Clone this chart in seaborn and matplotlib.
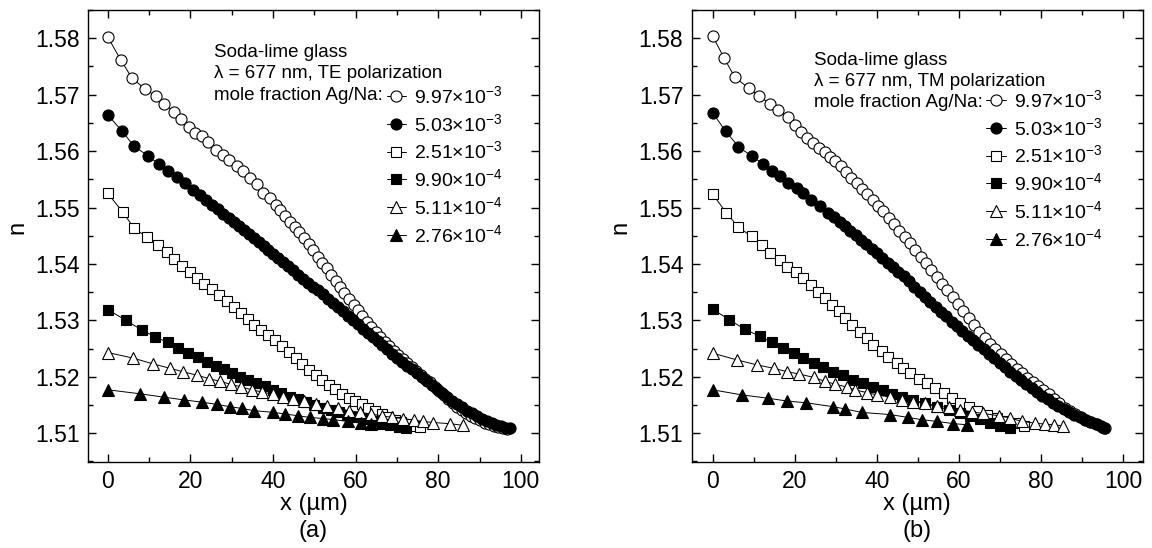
import matplotlib
matplotlib.use("Agg")
import matplotlib.pyplot as plt
import seaborn as sns
from matplotlib.ticker import MultipleLocator, FormatStrFormatter

# ---- data: x in um, n refractive index ----
labels = [r"9.97$\times$10$^{-3}$", r"5.03$\times$10$^{-3}$", r"2.51$\times$10$^{-3}$",
          r"9.90$\times$10$^{-4}$", r"5.11$\times$10$^{-4}$", r"2.76$\times$10$^{-4}$"]

# (a) TE polarization
te_x_997 = [0, 3.1, 5.8, 9.0, 11.7, 13.7, 16.0, 17.7, 19.7, 21.1, 22.7, 24.3, 26.2, 27.8, 29.4,
            31.2, 32.8, 34.4, 36.0, 37.6, 39.3, 40.6, 41.8, 43.0, 44.2, 45.3, 46.4, 47.5, 48.6,
            49.7, 50.8, 51.9, 53.0, 54.1, 55.2, 56.2, 57.3, 58.4, 59.5, 60.5, 61.6, 62.7, 63.8,
            64.9, 66.0, 67.1, 68.1, 69.2, 70.3, 71.4, 72.5, 73.6, 74.7, 75.8, 76.9, 78.0, 79.1,
            80.2, 81.3, 82.4, 83.5, 84.6, 85.7, 86.8, 87.9, 89.0, 90.1, 91.2, 92.3, 93.4, 94.5,
            95.6, 96.6]
te_n_997 = [1.5802, 1.5762, 1.5730, 1.5710, 1.5697, 1.5683, 1.5670, 1.5657, 1.5643, 1.5632,
            1.5626, 1.5617, 1.5602, 1.5593, 1.5584, 1.5574, 1.5564, 1.5552, 1.5541, 1.5526,
            1.5516, 1.5505, 1.5495, 1.5485, 1.5475, 1.5465, 1.5456, 1.5446, 1.5435, 1.5424,
            1.5413, 1.5402, 1.5392, 1.5381, 1.5370, 1.5360, 1.5349, 1.5338, 1.5328, 1.5318,
            1.5308, 1.5298, 1.5289, 1.5280, 1.5271, 1.5262, 1.5254, 1.5246, 1.5238, 1.5231,
            1.5224, 1.5217, 1.5210, 1.5204, 1.5197, 1.5190, 1.5182, 1.5175, 1.5168, 1.5160,
            1.5153, 1.5147, 1.5141, 1.5136, 1.5131, 1.5127, 1.5123, 1.5119, 1.5116, 1.5113,
            1.5111, 1.5109, 1.5108]
te_x_503 = [0, 3.5, 6.3, 9.8, 12.3, 14.6, 16.7, 18.6, 20.5, 22.2, 23.8, 25.3, 26.7, 28.0, 29.3,
            30.5, 31.7, 32.9, 34.1, 35.3, 36.5, 37.7, 38.9, 40.1, 41.3, 42.5, 43.7, 44.9, 46.1,
            47.3, 48.5, 49.7, 50.9, 52.1, 53.3, 54.5, 55.7, 56.9, 58.1, 59.3, 60.5, 61.7, 62.9,
            64.1, 65.3, 66.5, 67.7, 68.9, 70.1, 71.3, 72.5, 73.7, 74.9, 76.1, 77.3, 78.5, 79.7,
            80.9, 82.1, 83.3, 84.5, 85.7, 86.9, 88.1, 89.3, 90.5, 91.7, 92.9, 94.1, 95.3, 96.4,
            97.4]
te_n_503 = [1.5664, 1.5635, 1.5609, 1.5591, 1.5577, 1.5564, 1.5554, 1.5543, 1.5531, 1.5522,
            1.5513, 1.5505, 1.5497, 1.5489, 1.5481, 1.5474, 1.5467, 1.5460, 1.5453, 1.5446,
            1.5439, 1.5432, 1.5425, 1.5418, 1.5411, 1.5403, 1.5396, 1.5389, 1.5381, 1.5374,
            1.5367, 1.5360, 1.5353, 1.5346, 1.5338, 1.5331, 1.5323, 1.5316, 1.5308, 1.5300,
            1.5293, 1.5285, 1.5278, 1.5270, 1.5263, 1.5256, 1.5249, 1.5241, 1.5234, 1.5227,
            1.5220, 1.5213, 1.5206, 1.5199, 1.5192, 1.5185, 1.5178, 1.5171, 1.5164, 1.5158,
            1.5152, 1.5146, 1.5140, 1.5135, 1.5130, 1.5126, 1.5122, 1.5118, 1.5115, 1.5112,
            1.5110, 1.5109]
te_x_251 = [0, 3.6, 6.4, 9.4, 12.2, 14.3, 16.1, 18.0, 19.9, 21.6, 23.4, 25.2, 27.0, 28.8, 30.5,
            32.2, 33.9, 35.5, 37.2, 38.9, 40.5, 42.2, 43.9, 45.5, 47.1, 48.7, 50.3, 51.9, 53.5,
            55.1, 56.7, 58.3, 59.9, 61.5, 63.1, 64.7, 66.3, 67.9, 69.5, 71.1, 72.7, 74.3, 75.7]
te_n_251 = [1.5525, 1.5492, 1.5463, 1.5448, 1.5434, 1.5422, 1.5408, 1.5396, 1.5386, 1.5375,
            1.5365, 1.5355, 1.5345, 1.5334, 1.5324, 1.5313, 1.5302, 1.5292, 1.5283, 1.5274,
            1.5265, 1.5255, 1.5244, 1.5233, 1.5222, 1.5212, 1.5203, 1.5194, 1.5186, 1.5178,
            1.5170, 1.5163, 1.5157, 1.5151, 1.5145, 1.5139, 1.5134, 1.5129, 1.5124, 1.5120,
            1.5116, 1.5113, 1.5111]
te_x_990 = [0, 4.4, 8.2, 11.4, 14.5, 17.1, 19.5, 21.9, 24.1, 26.2, 28.1, 30.0, 32.0, 34.0, 35.9,
            38.0, 40.0, 42.0, 44.0, 46.0, 48.0, 50.0, 52.0, 54.0, 56.0, 58.0, 60.0, 62.0, 64.2,
            66.3, 68.4, 70.4, 72.2]
te_n_990 = [1.5319, 1.5300, 1.5283, 1.5271, 1.5261, 1.5251, 1.5242, 1.5235, 1.5227, 1.5220,
            1.5213, 1.5206, 1.5200, 1.5194, 1.5189, 1.5183, 1.5177, 1.5171, 1.5165, 1.5160,
            1.5155, 1.5150, 1.5145, 1.5141, 1.5137, 1.5133, 1.5129, 1.5125, 1.5121, 1.5117,
            1.5114, 1.5111, 1.5109]
te_x_511 = [0, 6.2, 10.9, 15.1, 18.2, 21.5, 24.4, 27.1, 29.7, 32.3, 34.9, 37.4, 39.9, 42.4, 44.9,
            47.6, 50.4, 53.0, 55.7, 58.4, 61.1, 63.7, 66.3, 68.9, 71.5, 74.2, 76.3, 78.8, 82.8, 86.0]
te_n_511 = [1.5243, 1.5233, 1.5223, 1.5215, 1.5209, 1.5203, 1.5197, 1.5192, 1.5187, 1.5182,
            1.5177, 1.5173, 1.5169, 1.5165, 1.5161, 1.5157, 1.5152, 1.5148, 1.5144, 1.5140,
            1.5137, 1.5134, 1.5131, 1.5128, 1.5126, 1.5123, 1.5121, 1.5119, 1.5117, 1.5114]
te_x_276 = [0, 7.7, 13.5, 18.5, 22.9, 26.5, 29.6, 32.4, 35.4, 40.1, 42.9, 46.1, 48.9, 52.2, 54.6,
            58.2, 61.3, 63.6]
te_n_276 = [1.5177, 1.5170, 1.5164, 1.5159, 1.5155, 1.5151, 1.5147, 1.5144, 1.5140, 1.5137,
            1.5134, 1.5131, 1.5128, 1.5126, 1.5124, 1.5121, 1.5118, 1.5116]

# (b) TM polarization
tm_x_997 = [0, 2.8, 5.4, 8.9, 11.4, 14.0, 16.0, 18.3, 20.0, 21.6, 23.1, 24.5, 25.9, 27.3, 28.6,
            29.9, 31.2, 32.5, 33.8, 35.1, 36.4, 37.7, 39.0, 40.3, 41.6, 42.9, 44.2, 45.5, 46.8,
            48.1, 49.4, 50.7, 52.0, 53.3, 54.6, 55.9, 57.2, 58.5, 59.8, 61.1, 62.4, 63.7, 65.0,
            66.3, 67.6, 68.9, 70.2, 71.5, 72.8, 74.1, 75.4, 76.7, 78.0, 79.3, 80.6, 81.9, 83.2,
            84.5, 85.8, 87.1, 88.4, 89.7, 91.0, 92.3, 93.6, 94.8, 95.7]
tm_n_997 = [1.5804, 1.5765, 1.5731, 1.5711, 1.5697, 1.5684, 1.5673, 1.5660, 1.5647, 1.5634,
            1.5623, 1.5614, 1.5606, 1.5598, 1.5590, 1.5583, 1.5573, 1.5563, 1.5553, 1.5543,
            1.5533, 1.5524, 1.5514, 1.5503, 1.5493, 1.5482, 1.5470, 1.5458, 1.5447, 1.5437,
            1.5425, 1.5413, 1.5401, 1.5389, 1.5377, 1.5364, 1.5353, 1.5342, 1.5329, 1.5316,
            1.5304, 1.5292, 1.5280, 1.5269, 1.5259, 1.5250, 1.5241, 1.5232, 1.5223, 1.5214,
            1.5206, 1.5198, 1.5191, 1.5183, 1.5176, 1.5169, 1.5161, 1.5153, 1.5145, 1.5139,
            1.5134, 1.5129, 1.5124, 1.5120, 1.5116, 1.5111, 1.5109]
tm_x_503 = [0, 3.2, 6.3, 9.5, 12.2, 14.4, 16.4, 18.5, 20.5, 22.0, 24.1, 26.2, 28.2, 29.6, 31.0,
            32.3, 33.6, 34.9, 36.2, 37.5, 38.8, 40.1, 41.4, 42.7, 44.0, 45.3, 46.6, 47.9, 49.2,
            50.5, 51.8, 53.1, 54.4, 55.7, 57.0, 58.3, 59.6, 60.9, 62.2, 63.5, 64.8, 66.1, 67.4,
            68.7, 70.0, 71.3, 72.6, 73.9, 75.2, 76.5, 77.8, 79.1, 80.4, 81.7, 83.0, 84.3, 85.6,
            86.9, 88.2, 89.5, 90.8, 92.1, 93.4, 94.6, 95.5]
tm_n_503 = [1.5668, 1.5635, 1.5608, 1.5591, 1.5578, 1.5565, 1.5555, 1.5543, 1.5534, 1.5525,
            1.5513, 1.5503, 1.5491, 1.5483, 1.5475, 1.5467, 1.5459, 1.5451, 1.5443, 1.5435,
            1.5427, 1.5419, 1.5411, 1.5402, 1.5394, 1.5386, 1.5378, 1.5369, 1.5360, 1.5351,
            1.5342, 1.5333, 1.5324, 1.5315, 1.5307, 1.5298, 1.5290, 1.5282, 1.5273, 1.5265,
            1.5257, 1.5249, 1.5241, 1.5233, 1.5225, 1.5217, 1.5209, 1.5202, 1.5195, 1.5187,
            1.5180, 1.5173, 1.5166, 1.5160, 1.5154, 1.5148, 1.5143, 1.5137, 1.5132, 1.5128,
            1.5124, 1.5120, 1.5116, 1.5112, 1.5110]
tm_x_251 = [0, 3.3, 6.3, 9.5, 12.0, 14.0, 16.4, 18.2, 20.3, 22.1, 24.1, 25.8, 27.4, 29.0, 30.7,
            32.3, 33.9, 35.9, 37.6, 39.2, 41.2, 42.8, 44.9, 46.5, 48.1, 50.2, 52.2, 54.2, 56.3,
            58.3, 60.3, 62.4, 64.4, 66.8, 69.3, 71.7, 73.7, 75.8]
tm_n_251 = [1.5524, 1.5491, 1.5465, 1.5449, 1.5434, 1.5419, 1.5407, 1.5395, 1.5385, 1.5375,
            1.5363, 1.5351, 1.5339, 1.5327, 1.5316, 1.5304, 1.5292, 1.5280, 1.5268, 1.5257,
            1.5245, 1.5235, 1.5224, 1.5215, 1.5206, 1.5197, 1.5189, 1.5180, 1.5171, 1.5162,
            1.5154, 1.5147, 1.5140, 1.5133, 1.5127, 1.5122, 1.5118, 1.5113]
tm_x_990 = [0, 4.1, 7.9, 11.5, 14.4, 17.2, 19.8, 22.1, 24.6, 27.0, 29.4, 31.9, 34.3, 36.7, 39.2,
            41.6, 43.7, 46.1, 48.9, 51.8, 54.6, 57.5, 60.3, 62.8, 65.2, 67.6, 70.1, 72.5]
tm_n_990 = [1.5320, 1.5301, 1.5284, 1.5272, 1.5261, 1.5251, 1.5242, 1.5233, 1.5224, 1.5218,
            1.5209, 1.5203, 1.5194, 1.5189, 1.5182, 1.5176, 1.5170, 1.5164, 1.5159, 1.5153,
            1.5147, 1.5141, 1.5135, 1.5131, 1.5125, 1.5118, 1.5113, 1.5109]
tm_x_511 = [0, 5.9, 10.9, 15.0, 18.2, 21.1, 24.6, 27.4, 29.8, 32.7, 34.7, 37.6, 40.0, 43.3, 46.1,
            48.9, 51.8, 54.6, 57.5, 60.3, 63.2, 66.0, 69.7, 72.5, 75.4, 78.6, 81.1, 83.1, 85.5]
tm_n_511 = [1.5242, 1.5230, 1.5221, 1.5215, 1.5209, 1.5205, 1.5199, 1.5192, 1.5187, 1.5182,
            1.5177, 1.5172, 1.5168, 1.5164, 1.5159, 1.5156, 1.5153, 1.5148, 1.5146, 1.5142,
            1.5138, 1.5135, 1.5131, 1.5127, 1.5121, 1.5118, 1.5116, 1.5115, 1.5113]
tm_x_276 = [0, 7.1, 13.6, 18.2, 22.8, 29.4, 32.3, 36.3, 43.3, 47.7, 51.0, 54.6, 58.7, 62.0]
tm_n_276 = [1.5177, 1.5168, 1.5162, 1.5157, 1.5154, 1.5147, 1.5143, 1.5137, 1.5133, 1.5128,
            1.5124, 1.5121, 1.5117, 1.5115]

# marker, filled?, size
styles = [("o", False, 8), ("o", True, 8), ("s", False, 7), ("s", True, 7),
          ("^", False, 8.5), ("^", True, 8.5)]

sns.set_style("ticks")
plt.rcParams["font.family"] = ["Liberation Sans", "DejaVu Sans"]
plt.rcParams["mathtext.fontset"] = "custom"
plt.rcParams["mathtext.rm"] = "Liberation Sans"
plt.rcParams["mathtext.it"] = "Liberation Sans:italic"
plt.rcParams["mathtext.bf"] = "Liberation Sans:bold"
for key in ["text.color", "axes.labelcolor", "xtick.color", "ytick.color", "axes.edgecolor"]:
    plt.rcParams[key] = "black"


def draw_panel(ax, xs, ns, pol, letter, xlim, text_x, text_top, leg_anchor):
    for (x, n), (m, filled, ms), lab in zip(zip(xs, ns), styles, labels):
        sns.lineplot(x=x, y=n, ax=ax, color="black", marker=m, markersize=ms,
                     markerfacecolor="black" if filled else "white",
                     markeredgecolor="black", markeredgewidth=0.8, linewidth=0.7,
                     sort=False, estimator=None, label=lab)
    ax.set_xlim(*xlim)
    ax.set_ylim(1.5049, 1.585)
    ax.xaxis.set_major_locator(MultipleLocator(20))
    ax.xaxis.set_minor_locator(MultipleLocator(10))
    ax.yaxis.set_major_locator(MultipleLocator(0.01))
    ax.yaxis.set_minor_locator(MultipleLocator(0.005))
    ax.yaxis.set_major_formatter(FormatStrFormatter("%.2f"))
    ax.tick_params(which="both", direction="in", top=True, right=True, width=1.0,
                   color="black", labelcolor="black")
    ax.tick_params(which="major", length=6, labelsize=16.5, pad=6)
    ax.tick_params(which="minor", length=3.5)
    for sp in ax.spines.values():
        sp.set_visible(True)
        sp.set_linewidth(1.0)
        sp.set_color("black")
    ax.set_xlabel("x (\u00b5m)", fontsize=17)
    ax.xaxis.set_label_coords(0.5, -0.093)
    ax.xaxis.label.set_va("center")
    ax.set_ylabel("n", fontsize=17)
    ax.yaxis.set_label_coords(-0.157, 0.52)
    ax.yaxis.label.set_va("center")
    ax.text(0.5, -0.152, letter, transform=ax.transAxes, ha="center", va="center", fontsize=17)
    lines = ["Soda-lime glass", "\u03bb = 677 nm, " + pol + " polarization", "mole fraction Ag/Na:"]
    for i, t in enumerate(lines):
        ax.text(text_x, text_top - i * 0.047, t, transform=ax.transAxes,
                ha="left", va="baseline", fontsize=13.5)
    ax.legend(loc="upper left", bbox_to_anchor=leg_anchor, frameon=False, fontsize=14,
              handlelength=1.0, handletextpad=0.4, labelspacing=0.3, borderpad=0,
              borderaxespad=0)


fig = plt.figure(figsize=(11.52, 5.48), dpi=100)
ax_a = fig.add_axes([0.0764, 0.1569, 0.3915, 0.8248])
ax_b = fig.add_axes([0.6004, 0.1569, 0.3918, 0.8248])

draw_panel(ax_a,
           [te_x_997, te_x_503, te_x_251, te_x_990, te_x_511, te_x_276],
           [te_n_997, te_n_503, te_n_251, te_n_990, te_n_511, te_n_276],
           "TE", "(a)", (-4.8, 104.4), 0.279, 0.896, (0.662, 0.834))
draw_panel(ax_b,
           [tm_x_997, tm_x_503, tm_x_251, tm_x_990, tm_x_511, tm_x_276],
           [tm_n_997, tm_n_503, tm_n_251, tm_n_990, tm_n_511, tm_n_276],
           "TM", "(b)", (-5.1, 104.9), 0.271, 0.879, (0.653, 0.825))

fig.savefig("out.png", dpi=100)
